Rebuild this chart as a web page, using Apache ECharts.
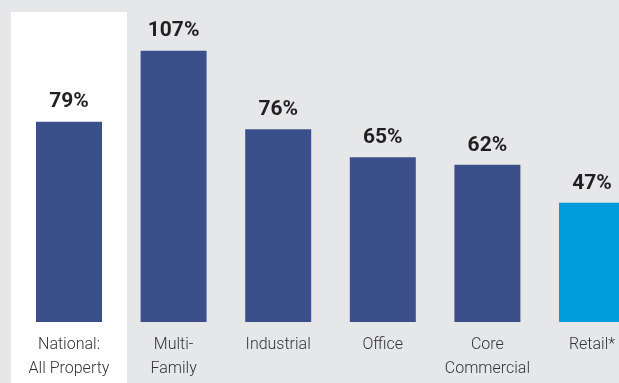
<!DOCTYPE html>
<html>
<head>
<meta charset="utf-8">
<script src="https://cdn.jsdelivr.net/npm/echarts@6/dist/echarts.min.js"></script>
<style>
  html, body { margin: 0; padding: 0; background: #e6e7e8; }
  #chart { width: 619px; height: 383px; }
</style>
</head>
<body>
<div id="chart"></div>
<script>
// Property sectors and their percentage values
const categories = ['National:\nAll Property', 'Multi-\nFamily', 'Industrial', 'Office', 'Core\nCommercial', 'Retail*'];
const values = [79, 107, 76, 65, 62, 47];
const barColors = ['#3b4f8a', '#3b4f8a', '#3b4f8a', '#3b4f8a', '#3b4f8a', '#009ddc'];

const chart = echarts.init(document.getElementById('chart'), null, { renderer: 'canvas' });

const option = {
  backgroundColor: '#e6e7e8',
  animation: false,
  grid: { left: 16.7, top: 0, width: 627.6, height: 322, outerBoundsMode: 'none', containLabel: false },
  xAxis: {
    type: 'category',
    data: categories,
    axisLine: { show: false },
    axisTick: { show: false },
    axisLabel: {
      interval: 0,
      margin: 11,
      fontFamily: 'Roboto',
      fontWeight: 300,
      fontSize: 16,
      lineHeight: 24,
      color: '#333333'
    }
  },
  yAxis: {
    type: 'value',
    min: 0,
    max: 127,
    show: false,
    splitLine: { show: false }
  },
  series: [{
    type: 'bar',
    barWidth: 66,
    data: values.map((v, i) => ({ value: v, itemStyle: { color: barColors[i] } })),
    label: {
      show: true,
      position: 'top',
      distance: 9,
      formatter: '{c}%',
      fontFamily: 'Roboto',
      fontWeight: 'bold',
      fontSize: 21,
      color: '#231f20'
    },
    z: 2
  }]
};

chart.setOption(option);

// White panel behind the national (all property) column
const cx = chart.convertToPixel({ xAxisIndex: 0 }, categories[0]);
const panelW = 116;
chart.setOption({
  graphic: [{
    type: 'rect',
    z: -10,
    silent: true,
    shape: { x: cx - panelW / 2, y: 12, width: panelW, height: 383 - 12 },
    style: { fill: '#ffffff' }
  }]
});
</script>
</body>
</html>
